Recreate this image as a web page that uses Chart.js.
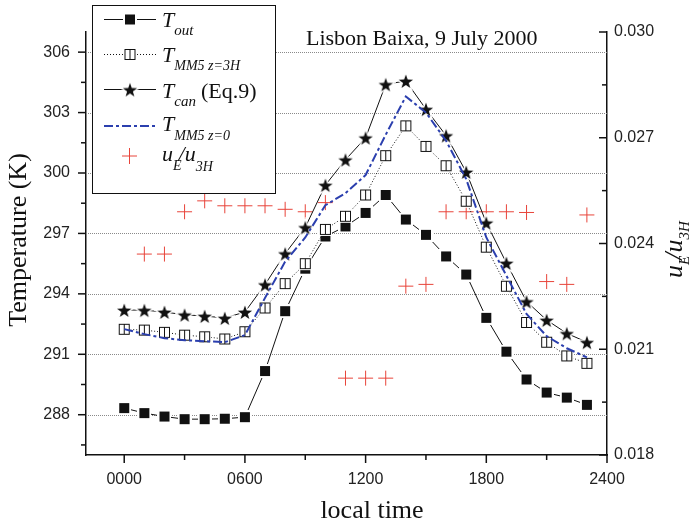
<!DOCTYPE html>
<html>
<head>
<meta charset="utf-8">
<script src="https://cdn.jsdelivr.net/npm/chart.js@4.4.0/dist/chart.umd.min.js"></script>
<style>
  body { margin: 0; background: #fff; }
</style>
</head>
<body>
<canvas id="chart" width="690" height="526"></canvas>
<script>
// Heures locales (hhmm)
const hours = [0, 100, 200, 300, 400, 500, 600, 700, 800, 900, 1000, 1100,
               1200, 1300, 1400, 1500, 1600, 1700, 1800, 1900, 2000, 2100, 2200, 2300];

// Températures (K)
const tOut = [288.33, 288.08, 287.91, 287.78, 287.78, 287.8, 287.88, 290.17, 293.14, 295.25, 296.85, 297.35,
              298.02, 298.91, 297.69, 296.93, 295.86, 294.96, 292.81, 291.13, 289.75, 289.1, 288.85, 288.49];
const tMm5z3h = [292.24, 292.2, 292.09, 291.95, 291.87, 291.76, 292.12, 293.3, 294.51, 295.5, 297.2, 297.85,
                 298.91, 300.86, 302.34, 301.32, 300.36, 298.6, 296.32, 294.38, 292.58, 291.6, 290.92, 290.55];
const tCan = [293.2, 293.19, 293.1, 292.96, 292.9, 292.8, 293.1, 294.46, 296.0, 297.3, 299.4, 300.66,
              301.75, 304.4, 304.57, 303.17, 301.86, 300.05, 297.53, 295.53, 293.62, 292.7, 292.04, 291.6];
const tMm5z0 = [292.25, 292.0, 291.8, 291.7, 291.65, 291.6, 291.95, 293.8, 295.6, 296.8, 298.4, 299.0,
                299.9, 301.9, 303.8, 303.0, 301.6, 299.7, 296.8, 294.9, 293.0, 291.9, 291.3, 290.85];

// Rapport u_E/u_3H (axe de droite)
const ueRatio = [null, 0.0237, 0.0237, 0.0249, 0.02521, 0.02507, 0.02507, 0.02507, 0.02497, 0.0249, 0.02516, 0.02018,
                 0.02018, 0.02018, 0.02279, 0.02284, 0.0249, 0.0249, 0.0249, 0.0249, 0.02488, 0.02292, 0.02284, 0.02481];

// Graduations
const xTicks = [0, 600, 1200, 1800, 2400];
const xMinor = [300, 900, 1500, 2100];
const leftTicks = [288, 291, 294, 297, 300, 303, 306];
const leftMinor = [286.5, 289.5, 292.5, 295.5, 298.5, 301.5, 304.5];
const rightTicks = [0.018, 0.021, 0.024, 0.027, 0.030];
const rightMinor = [0.0195, 0.0225, 0.0255, 0.0285];

const BLUE = '#2b3fae';
const RED = '#e8443a';
const SERIF = '"Liberation Serif", "Times New Roman", serif';
const SANS = '"Liberation Sans", Arial, sans-serif';

function makeMarker(size, draw) {
    const c = document.createElement('canvas');
    c.width = size;
    c.height = size;
    draw(c.getContext('2d'), size / 2);
    return c;
}

const filledSquare = makeMarker(14, function(g) {
    g.fillStyle = '#fff';
    g.fillRect(0, 0, 14, 14);
    g.fillStyle = '#111';
    g.fillRect(2, 2, 10, 10);
});

const openSquare = makeMarker(15, function(g) {
    g.fillStyle = '#fff';
    g.fillRect(1, 1, 13, 13);
    g.strokeStyle = '#111';
    g.lineWidth = 1;
    g.strokeRect(2.5, 2.5, 10, 10);
    g.beginPath();
    g.moveTo(7.5, 2.5);
    g.lineTo(7.5, 12.5);
    g.stroke();
});

const filledStar = makeMarker(20, function(g, c) {
    g.beginPath();
    for (let i = 0; i < 10; i++) {
        const r = i % 2 === 0 ? 7.5 : 3.0;
        const a = -Math.PI / 2 + i * Math.PI / 5;
        g.lineTo(c + r * Math.cos(a), c + 1 + r * Math.sin(a));
    }
    g.closePath();
    g.strokeStyle = '#fff';
    g.lineWidth = 3;
    g.stroke();
    g.fillStyle = '#111';
    g.fill();
});

function toPoints(values) {
    return hours.map((h, i) => ({ x: h, y: values[i] }));
}

// Texte avec indice (italique)
function drawSub(ctx, x, y, main, sub, size, subSize, drop) {
    ctx.font = 'italic ' + size + 'px ' + SERIF;
    ctx.fillText(main, x, y);
    const w = ctx.measureText(main).width;
    ctx.font = 'italic ' + subSize + 'px ' + SERIF;
    ctx.fillText(sub, x + w, y + drop);
    return x + w + ctx.measureText(sub).width;
}

const decorPlugin = {
    id: 'decor',
    beforeDatasetsDraw(chart) {
        const ctx = chart.ctx;
        const area = chart.chartArea;
        const yl = chart.scales.y;
        ctx.save();
        ctx.strokeStyle = '#8a8a8a';
        ctx.lineWidth = 1;
        ctx.setLineDash([1, 1]);
        leftTicks.forEach(v => {
            const py = Math.round(yl.getPixelForValue(v)) + 0.5;
            ctx.beginPath();
            ctx.moveTo(area.left, py);
            ctx.lineTo(area.right, py);
            ctx.stroke();
        });
        ctx.restore();
    },
    afterDraw(chart) {
        const ctx = chart.ctx;
        const area = chart.chartArea;
        const xs = chart.scales.x;
        const yl = chart.scales.y;
        const yr = chart.scales.y2;
        ctx.save();

        // Graduations
        ctx.strokeStyle = '#111';
        ctx.lineWidth = 1.5;
        const seg = (x1, y1, x2, y2) => {
            ctx.beginPath();
            ctx.moveTo(x1, y1);
            ctx.lineTo(x2, y2);
            ctx.stroke();
        };
        xTicks.forEach(v => { const p = xs.getPixelForValue(v); seg(p, area.bottom, p, area.bottom + 8); });
        xMinor.forEach(v => { const p = xs.getPixelForValue(v); seg(p, area.bottom, p, area.bottom + 5); });
        leftTicks.forEach(v => { const p = yl.getPixelForValue(v); seg(area.left - 8, p, area.left, p); });
        leftMinor.forEach(v => { const p = yl.getPixelForValue(v); seg(area.left - 5, p, area.left, p); });
        rightTicks.forEach(v => { const p = yr.getPixelForValue(v); seg(area.right - 8, p, area.right, p); });
        rightMinor.forEach(v => { const p = yr.getPixelForValue(v); seg(area.right - 5, p, area.right, p); });

        // Titre
        ctx.fillStyle = '#111';
        ctx.textBaseline = 'alphabetic';
        ctx.textAlign = 'left';
        ctx.font = '22px ' + SERIF;
        ctx.fillText('Lisbon Baixa, 9 July 2000', 306, 45);

        // Titres des axes
        ctx.font = '26px ' + SERIF;
        ctx.textAlign = 'center';
        ctx.textBaseline = 'middle';
        ctx.fillText('local time', 372, 511);
        ctx.save();
        ctx.translate(19, 240);
        ctx.rotate(-Math.PI / 2);
        ctx.fillText('Temperature (K)', 0, 0);
        ctx.restore();

        ctx.save();
        ctx.translate(682, 247);
        ctx.rotate(-Math.PI / 2);
        ctx.textAlign = 'left';
        ctx.textBaseline = 'alphabetic';
        let cx = drawSub(ctx, -31, 0, 'u', 'E', 26, 15, 7);
        ctx.font = 'italic 26px ' + SERIF;
        ctx.fillText('/', cx - 4, 0);
        cx += ctx.measureText('/').width - 4;
        drawSub(ctx, cx, 0, 'u', '3H', 26, 15, 7);
        ctx.restore();

        // Légende
        const lx = 92, ly = 5, lw = 183, lh = 188;
        ctx.fillStyle = '#fff';
        ctx.fillRect(lx, ly, lw, lh);
        ctx.strokeStyle = '#111';
        ctx.lineWidth = 1;
        ctx.setLineDash([]);
        ctx.strokeRect(lx + 0.5, ly + 0.5, lw, lh);

        const sample = (y, dash, color, width, marker) => {
            ctx.save();
            ctx.strokeStyle = color;
            ctx.lineWidth = width;
            ctx.setLineDash(dash);
            ctx.beginPath();
            ctx.moveTo(104, y);
            ctx.lineTo(156, y);
            ctx.stroke();
            ctx.restore();
            if (marker) {
                ctx.drawImage(marker, 130 - marker.width / 2, y - marker.height / 2);
            }
        };
        sample(19.5, [], '#111', 1, filledSquare);
        sample(54.5, [1, 2], '#111', 1, openSquare);
        sample(89.5, [], '#111', 1, filledStar);
        sample(126, [9, 3, 3, 3], BLUE, 2, null);
        ctx.strokeStyle = RED;
        ctx.lineWidth = 1;
        seg(122, 156, 137, 156);
        seg(129.5, 148, 129.5, 164);

        ctx.fillStyle = '#111';
        ctx.textAlign = 'left';
        ctx.textBaseline = 'alphabetic';
        drawSub(ctx, 162, 27, 'T', 'out', 22, 15, 8);
        drawSub(ctx, 162, 62, 'T', 'MM5 z=3H', 22, 14, 8);
        const endCan = drawSub(ctx, 162, 98, 'T', 'can', 22, 15, 8);
        ctx.font = '22px ' + SERIF;
        ctx.fillText('(Eq.9)', endCan + 5, 98);
        drawSub(ctx, 162, 131, 'T', 'MM5 z=0', 22, 14, 9);
        let ux = drawSub(ctx, 162, 161, 'u', 'E', 22, 14, 9);
        ctx.font = 'italic 22px ' + SERIF;
        ctx.fillText('/', ux - 3, 161);
        ux += ctx.measureText('/').width - 3;
        drawSub(ctx, ux, 161, 'u', '3H', 22, 14, 10);

        ctx.restore();
    }
};

const ctx = document.getElementById('chart').getContext('2d');
new Chart(ctx, {
    type: 'line',
    data: {
        datasets: [
            {
                label: 'T_MM5 z=0',
                data: toPoints(tMm5z0),
                borderColor: BLUE,
                borderWidth: 2,
                borderDash: [9, 3, 3, 3],
                pointRadius: 0,
                tension: 0,
                yAxisID: 'y'
            },
            {
                label: 'T_MM5 z=3H',
                data: toPoints(tMm5z3h),
                borderColor: '#111',
                borderWidth: 1,
                borderDash: [1, 2],
                pointStyle: openSquare,
                pointRadius: 6,
                tension: 0,
                yAxisID: 'y'
            },
            {
                label: 'T_can',
                data: toPoints(tCan),
                borderColor: '#111',
                borderWidth: 1,
                pointStyle: filledStar,
                pointRadius: 7,
                tension: 0,
                yAxisID: 'y'
            },
            {
                label: 'T_out',
                data: toPoints(tOut),
                borderColor: '#111',
                borderWidth: 1,
                pointStyle: filledSquare,
                pointRadius: 6,
                tension: 0,
                yAxisID: 'y'
            },
            {
                label: 'u_E/u_3H',
                data: toPoints(ueRatio),
                showLine: false,
                borderColor: RED,
                backgroundColor: RED,
                borderWidth: 1,
                pointStyle: 'cross',
                pointRadius: 7.5,
                yAxisID: 'y2'
            }
        ]
    },
    options: {
        responsive: false,
        animation: false,
        layout: { padding: { top: 32 } },
        plugins: {
            legend: { display: false },
            tooltip: { enabled: false }
        },
        scales: {
            x: {
                type: 'linear',
                min: -190,
                max: 2400,
                afterBuildTicks: s => { s.ticks = xTicks.map(v => ({ value: v })); },
                afterFit: s => { s.height = 71; },
                grid: { display: true, drawOnChartArea: false, drawTicks: false },
                border: { display: true, color: '#111', width: 1.5 },
                ticks: {
                    padding: 15,
                    maxRotation: 0,
                    autoSkip: false,
                    color: '#222',
                    font: { family: SANS, size: 16 },
                    callback: v => String(v).padStart(4, '0')
                }
            },
            y: {
                position: 'left',
                min: 286,
                max: 307,
                afterBuildTicks: s => { s.ticks = leftTicks.map(v => ({ value: v })); },
                afterFit: s => { s.width = 86; },
                grid: { display: true, drawOnChartArea: false, drawTicks: false },
                border: { display: true, color: '#111', width: 1.5 },
                ticks: {
                    padding: 16,
                    color: '#222',
                    font: { family: SANS, size: 16 },
                    callback: v => String(v)
                }
            },
            y2: {
                position: 'right',
                min: 0.018,
                max: 0.030,
                afterBuildTicks: s => { s.ticks = rightTicks.map(v => ({ value: v })); },
                afterFit: s => { s.width = 83; },
                grid: { display: true, drawOnChartArea: false, drawTicks: false },
                border: { display: true, color: '#111', width: 1.5 },
                ticks: {
                    padding: 7,
                    color: '#222',
                    font: { family: SANS, size: 16 },
                    callback: v => v.toFixed(3)
                }
            }
        }
    },
    plugins: [decorPlugin]
});
</script>
</body>
</html>
